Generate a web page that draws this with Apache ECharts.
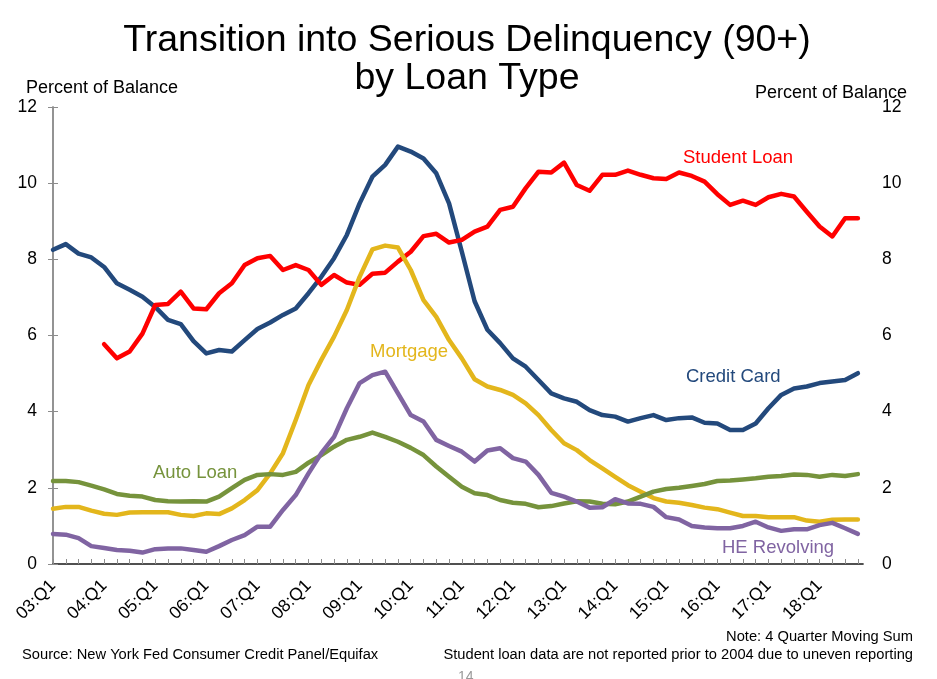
<!DOCTYPE html>
<html>
<head>
<meta charset="utf-8">
<script src="https://cdn.jsdelivr.net/npm/echarts@6/dist/echarts.min.js"></script>
<style>html,body{margin:0;padding:0;background:#fff}#c{width:937px;height:679px}</style>
</head>
<body>
<div id="c"></div>
<script>
// 64 quarters: 03:Q1 .. 18:Q4
const quarters = [];
for (let y = 3; y <= 18; y++) { for (let q = 1; q <= 4; q++) { quarters.push((y < 10 ? '0' + y : '' + y) + ':Q' + q); } }

const creditCard = [8.25,8.4,8.15,8.05,7.8,7.37,7.2,7.02,6.75,6.41,6.3,5.85,5.53,5.62,5.58,5.88,6.17,6.34,6.54,6.71,7.11,7.54,8.03,8.64,9.47,10.17,10.48,10.96,10.83,10.65,10.26,9.47,8.2,6.9,6.15,5.8,5.4,5.18,4.83,4.48,4.35,4.26,4.04,3.91,3.87,3.74,3.83,3.91,3.78,3.83,3.85,3.71,3.69,3.52,3.52,3.69,4.09,4.44,4.61,4.66,4.75,4.79,4.83,5.01];
const studentLoan = [null,null,null,null,5.77,5.4,5.58,6.05,6.8,6.83,7.15,6.71,6.69,7.11,7.37,7.85,8.03,8.09,7.72,7.85,7.72,7.33,7.59,7.39,7.33,7.62,7.65,7.94,8.2,8.61,8.67,8.44,8.51,8.73,8.86,9.3,9.38,9.87,10.3,10.28,10.54,9.95,9.8,10.22,10.22,10.33,10.22,10.13,10.11,10.28,10.19,10.04,9.71,9.43,9.54,9.43,9.63,9.72,9.65,9.25,8.86,8.6,9.08,9.08];
const mortgage = [1.45,1.5,1.5,1.4,1.32,1.29,1.35,1.36,1.36,1.36,1.29,1.26,1.33,1.31,1.46,1.68,1.94,2.38,2.91,3.78,4.7,5.36,5.97,6.67,7.54,8.26,8.36,8.31,7.72,6.93,6.49,5.88,5.4,4.85,4.66,4.57,4.44,4.22,3.91,3.52,3.17,2.99,2.73,2.51,2.29,2.07,1.9,1.73,1.64,1.61,1.55,1.48,1.44,1.35,1.26,1.26,1.23,1.23,1.23,1.14,1.11,1.16,1.17,1.17];
const autoLoan = [2.18,2.18,2.15,2.06,1.96,1.84,1.79,1.77,1.68,1.65,1.64,1.65,1.64,1.77,1.99,2.21,2.34,2.36,2.34,2.42,2.66,2.86,3.08,3.26,3.34,3.45,3.34,3.21,3.05,2.86,2.56,2.29,2.03,1.86,1.81,1.68,1.61,1.58,1.49,1.52,1.59,1.65,1.64,1.58,1.57,1.64,1.77,1.9,1.97,2.0,2.05,2.1,2.18,2.19,2.22,2.25,2.29,2.31,2.35,2.34,2.29,2.34,2.31,2.36];
const heRevolving = [0.79,0.77,0.68,0.47,0.42,0.37,0.35,0.3,0.39,0.41,0.41,0.37,0.32,0.47,0.63,0.76,0.98,0.98,1.42,1.81,2.38,2.91,3.34,4.09,4.75,4.96,5.05,4.48,3.91,3.74,3.26,3.1,2.95,2.69,2.98,3.04,2.78,2.69,2.34,1.87,1.77,1.64,1.48,1.49,1.7,1.59,1.58,1.5,1.23,1.17,1.0,0.96,0.94,0.94,1.0,1.11,0.96,0.87,0.91,0.91,1.02,1.08,0.94,0.79];

const yTicks = [0, 2, 4, 6, 8, 10, 12];
const seriesNames = ['Credit Card', 'Student Loan', 'Mortgage', 'Auto Loan', 'HE Revolving'];
const colors = ['#23497C', '#FF0000', '#E3B61C', '#76933C', '#8064A2'];
const seriesData = [creditCard, studentLoan, mortgage, autoLoan, heRevolving];

const font = 'Arial, "Liberation Sans", sans-serif';

const chart = echarts.init(document.getElementById('c'), null, { renderer: 'canvas' });

const yAxisBase = {
  type: 'value', min: 0, max: 12, interval: 2,
  splitLine: { show: false },
  axisLine: { show: true, lineStyle: { color: '#8c8c8c', width: 1.5 } },
  axisTick: { show: true, inside: true, length: 5, lineStyle: { color: '#8c8c8c' } },
  axisLabel: { color: '#000', fontSize: 17.5, fontFamily: font }
};

// x positions are quarter indices; the axis runs a little past the last quarter
const xMax = quarters.length - 0.6;
const labelFor = v => (Number.isInteger(v) && v % 4 === 0 && v < quarters.length) ? quarters[v] : '';

chart.setOption({
  animation: false,
  backgroundColor: '#fff',
  title: [
    { text: 'Transition into Serious Delinquency (90+)\nby Loan Type', left: 462, textAlign: 'center', top: 17,
      textStyle: { fontSize: 37.5, fontWeight: 'normal', color: '#000', fontFamily: font, lineHeight: 38 } }
  ],
  grid: { left: 53, right: 74, top: 107, bottom: 115, containLabel: false },
  xAxis: [
    {
      type: 'value', min: 0, max: xMax, interval: 1,
      axisLine: { show: true, lineStyle: { color: '#8c8c8c', width: 1.5 } },
      axisTick: { show: true, inside: true, length: 5, lineStyle: { color: '#8c8c8c' } },
      axisLabel: { rotate: 45, color: '#000', fontSize: 17.5, fontFamily: font, margin: 19,
        formatter: labelFor, showMaxLabel: false },
      splitLine: { show: false }
    },
    {
      type: 'value', min: 0, max: xMax, position: 'top',
      axisLine: { show: true, lineStyle: { color: '#333', width: 1.5 } },
      axisTick: { show: false }, axisLabel: { show: false }, splitLine: { show: false }
    }
  ],
  yAxis: [
    Object.assign({}, yAxisBase, { position: 'left', axisLabel: Object.assign({}, yAxisBase.axisLabel, { margin: 16 }) }),
    Object.assign({}, yAxisBase, { position: 'right', axisLabel: Object.assign({}, yAxisBase.axisLabel, { margin: 19 }) })
  ],
  series: seriesNames.map((n, i) => ({
    name: n, type: 'line', data: seriesData[i].map((v, k) => [k, v]), xAxisIndex: 0, yAxisIndex: 0,
    symbol: 'none', connectNulls: false,
    lineStyle: { color: colors[i], width: 4.5, join: 'round', cap: 'round' },
    itemStyle: { color: colors[i] }
  })),
  graphic: [
    { type: 'text', left: 26, top: 79, style: { text: 'Percent of Balance', fontSize: 18, fontFamily: font, fill: '#000' } },
    { type: 'text', left: 755, top: 84, style: { text: 'Percent of Balance', fontSize: 18, fontFamily: font, fill: '#000' } },
    { type: 'text', left: 683, top: 148, style: { text: 'Student Loan', fontSize: 18.5, fontFamily: font, fill: '#FF0000' } },
    { type: 'text', left: 686, top: 367, style: { text: 'Credit Card', fontSize: 18.5, fontFamily: font, fill: '#23497C' } },
    { type: 'text', left: 370, top: 342, style: { text: 'Mortgage', fontSize: 18.5, fontFamily: font, fill: '#E3B61C' } },
    { type: 'text', left: 153, top: 463, style: { text: 'Auto Loan', fontSize: 18.5, fontFamily: font, fill: '#76933C' } },
    { type: 'text', left: 722, top: 538, style: { text: 'HE Revolving', fontSize: 18.5, fontFamily: font, fill: '#8064A2' } },
    { type: 'text', right: 24, top: 629, style: { text: 'Note: 4 Quarter Moving Sum', fontSize: 14.7, fontFamily: font, fill: '#000' } },
    { type: 'text', right: 24, top: 647, style: { text: 'Student loan data are not reported prior to 2004 due to uneven reporting', fontSize: 14.7, fontFamily: font, fill: '#000' } },
    { type: 'text', left: 22, top: 647, style: { text: 'Source: New York Fed Consumer Credit Panel/Equifax', fontSize: 14.7, fontFamily: font, fill: '#000' } },
    { type: 'text', left: 458, top: 670, style: { text: '14', fontSize: 14, fontFamily: font, fill: '#999' } }
  ]
});
</script>
</body>
</html>
